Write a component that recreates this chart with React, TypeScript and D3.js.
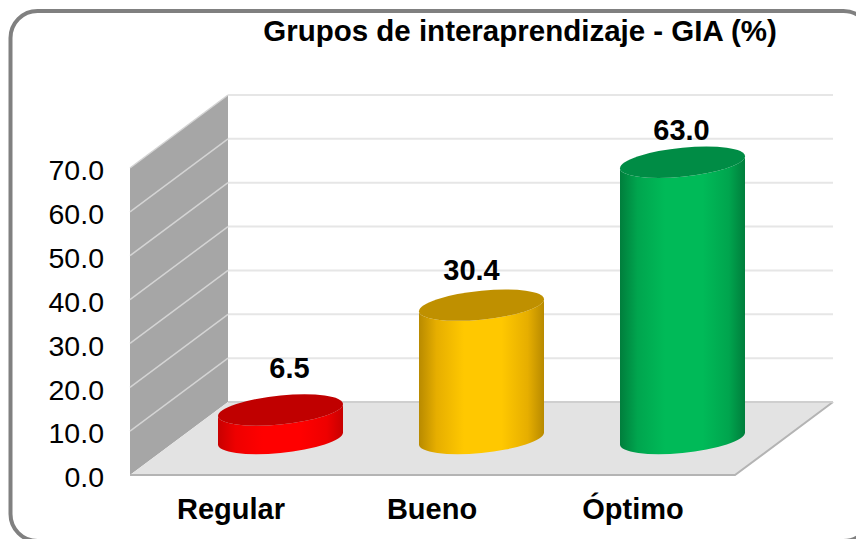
import React from 'react';
import * as d3 from 'd3';

const categories = ['Regular', 'Bueno', 'Óptimo'];
const values = [6.5, 30.4, 63.0];
const ticks = [0, 10, 20, 30, 40, 50, 60, 70];
const title = 'Grupos de interaprendizaje - GIA (%)';

const palettes = [
  { id: 'red', top: '#c00000', edge: '#c80000', soft: '#ee0000', mid: '#ff0000' },
  { id: 'gold', top: '#bf9000', edge: '#b88a00', soft: '#e6ae00', mid: '#ffc800' },
  { id: 'green', top: '#008c45', edge: '#007e3c', soft: '#00a54e', mid: '#00ba58' },
];

// ajuste a mano de las etiquetas de valor
const labelDx = [9, -10, -1];
const labelDy = [-32, -25, -22];

const y = d3.scaleLinear().domain([0, 70]).range([475, 168]);
const x = d3.scaleBand<string>().domain(categories).range([180, 783]);
const depthX = 98;
const depthY = -73;
const plotLeft = 130;
const plotRight = 735;
const rx = 62.5;
const ry = 14.5;
const baseY = 438.5;
const skew = -5.5;

const App = () => {
  const barH = (v: number) => y(0) - y(v);
  return (
    <div style={{ position: 'fixed', left: 0, top: 0 }}>
      <svg width={856} height={539} style={{ display: 'block', fontFamily: '"Liberation Sans", Arial, sans-serif' }}>
        <defs>
          {palettes.map(p => (
            <linearGradient key={p.id} id={p.id} x1="0" x2="1" y1="0" y2="0">
              <stop offset="0" stopColor={p.edge} />
              <stop offset="0.14" stopColor={p.soft} />
              <stop offset="0.36" stopColor={p.mid} />
              <stop offset="0.66" stopColor={p.mid} />
              <stop offset="0.87" stopColor={p.soft} />
              <stop offset="1" stopColor={p.edge} />
            </linearGradient>
          ))}
        </defs>
        <rect x={0} y={0} width={856} height={539} fill="#fff" />
        <rect x={10.5} y={11} width={860} height={530} rx={27} fill="#fff" stroke="#808080" strokeWidth={4} />

        {/* pared lateral y piso */}
        <polygon
          points={[[plotLeft, y(0)], [plotLeft + depthX, y(0) + depthY], [plotLeft + depthX, y(70) + depthY], [plotLeft, y(70)]].join(' ')}
          fill="#a6a6a6"
        />
        <polygon
          points={[[plotLeft, y(0)], [plotLeft + depthX, y(0) + depthY], [plotRight + depthX, y(0) + depthY], [plotRight, y(0)]].join(' ')}
          fill="#e3e3e3"
        />
        {ticks.map(t => (
          <g key={t}>
            {t > 0 && (
              <>
                <line x1={plotLeft} y1={y(t)} x2={plotLeft + depthX} y2={y(t) + depthY} stroke="#d4d4d4" strokeWidth={1.5} />
                <line x1={plotLeft + depthX} y1={y(t) + depthY} x2={plotRight + depthX} y2={y(t) + depthY} stroke="#e6e6e6" strokeWidth={2} />
              </>
            )}
            <text x={104} y={y(t) + 2} dy="0.36em" textAnchor="end" fontSize={28.5} fill="#000">
              {t.toFixed(1)}
            </text>
          </g>
        ))}
        <polyline
          points={[[plotLeft, y(0)], [plotRight, y(0)], [plotRight + depthX, y(0) + depthY]].join(' ')}
          fill="none"
          stroke="#b4b4b4"
          strokeWidth={2}
        />
        <line x1={plotLeft + depthX} x2={plotRight + depthX} y1={y(0) + depthY} y2={y(0) + depthY} stroke="#cfcfcf" strokeWidth={2} />

        {/* cilindros */}
        {categories.map((c, i) => {
          const cx = (x(c) as number) + x.bandwidth() / 2;
          const h = barH(values[i]);
          const p = palettes[i];
          return (
            <g key={c}>
              <g transform={`translate(${cx},${baseY}) skewY(${skew})`}>
                <path
                  d={`M${-rx},0 A${rx},${ry} 0 0 0 ${rx},0 L${rx},${-h} A${rx},${ry} 0 0 1 ${-rx},${-h} Z`}
                  fill={`url(#${p.id})`}
                />
                <ellipse cx={0} cy={-h} rx={rx} ry={ry} fill={p.top} />
              </g>
              <text x={cx + labelDx[i]} y={baseY - h + labelDy[i]} textAnchor="middle" fontSize={29} fontWeight="bold" fill="#000">
                {values[i].toFixed(1)}
              </text>
              <text x={cx - 49.5} y={519} textAnchor="middle" fontSize={29} fontWeight="bold" fill="#000">
                {c}
              </text>
            </g>
          );
        })}

        <text x={520} y={41} textAnchor="middle" fontSize={29.5} fontWeight="bold" fill="#000">
          {title}
        </text>
      </svg>
    </div>
  );
};

export default App;
